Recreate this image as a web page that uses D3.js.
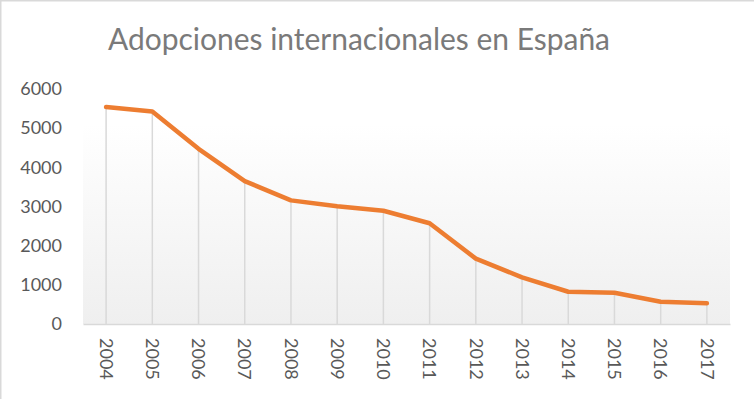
<!DOCTYPE html>
<html>
<head>
<meta charset="utf-8">
<script src="https://cdn.jsdelivr.net/npm/d3@7"></script>
<style>
  body { margin: 0; background: #fff; }
  svg { display: block; }
</style>
</head>
<body>
<svg id="chart" width="754" height="399"></svg>
<script>
const years = ['2004', '2005', '2006', '2007', '2008', '2009', '2010',
               '2011', '2012', '2013', '2014', '2015', '2016', '2017'];
const adoptions = [5541, 5423, 4472, 3648, 3156, 3006, 2891,
                   2573, 1669, 1191, 824, 799, 567, 531];
const yTicks = [0, 1000, 2000, 3000, 4000, 5000, 6000];

const TEXT_COLOR = '#595959';
const TITLE_COLOR = '#7a7a7a';
const LINE_COLOR = '#ed7d31';
const GRID_COLOR = '#d9d9d9';
const FONT = 'Lato, "Open Sans", sans-serif';

const margins = {left: 83, top: 89, right: 24, bottom: 75};
const width = 754 - margins.left - margins.right;
const height = 399 - margins.top - margins.bottom;

const svg = d3.select('#chart');

// chart border, only top and left edges show in the crop
svg.append('path')
    .attr('d', 'M0.75,399 V0.75 H754')
    .attr('fill', 'none')
    .attr('stroke', '#d9d9d9')
    .attr('stroke-width', 1.5);

const defs = svg.append('defs');
const grad = defs.append('linearGradient')
    .attr('id', 'plotFill')
    .attr('x1', 0).attr('y1', 0).attr('x2', 0).attr('y2', 1);
grad.append('stop').attr('offset', '0%').attr('stop-color', '#ffffff');
grad.append('stop').attr('offset', '15%').attr('stop-color', '#ffffff');
grad.append('stop').attr('offset', '100%').attr('stop-color', '#efefef');

svg.append('text')      // title
    .attr('x', 359)
    .attr('y', 50)
    .attr('text-anchor', 'middle')
    .attr('fill', TITLE_COLOR)
    .style('font-family', FONT)
    .style('font-size', '30px')
    .attr('textLength', 502)
    .attr('lengthAdjust', 'spacingAndGlyphs')
    .text('Adopciones internacionales en España');

const g = svg.append('g')
    .attr('transform', `translate(${margins.left},${margins.top})`);

const xScale = d3.scaleBand()
    .domain(years)
    .range([0, width]);
const yScale = d3.scaleLinear()
    .domain([0, 6000])
    .range([height, 0]);

g.append('rect')
    .attr('width', width)
    .attr('height', height)
    .attr('fill', 'url(#plotFill)');

const xc = d => xScale(d) + xScale.bandwidth() / 2;

// drop lines from baseline to each point
g.append('g')
    .selectAll('line')
    .data(years)
    .join('line')
    .attr('x1', d => xc(d))
    .attr('x2', d => xc(d))
    .attr('y1', height)
    .attr('y2', (d, i) => yScale(adoptions[i]))
    .attr('stroke', GRID_COLOR)
    .attr('stroke-width', 1.5);

// x axis
const xAxis = g.append('g')
    .attr('class', 'x-axis')
    .attr('transform', `translate(0,${height})`)
    .call(d3.axisBottom(xScale).tickSize(0).tickPadding(0));
xAxis.select('.domain')
    .attr('stroke', GRID_COLOR)
    .attr('stroke-width', 1.5);
xAxis.selectAll('.tick text')
    .attr('transform', 'translate(0,14) rotate(90)')
    .attr('dy', '0.35em')
    .attr('x', 0)
    .attr('y', 0)
    .attr('text-anchor', 'start')
    .attr('fill', TEXT_COLOR)
    .style('font-family', FONT)
    .style('font-size', '18px');

// y axis
const yAxis = g.append('g')
    .attr('class', 'y-axis')
    .call(d3.axisLeft(yScale).tickValues(yTicks).tickSize(0).tickPadding(21)
        .tickFormat(d3.format('d')));
yAxis.select('.domain').remove();
yAxis.selectAll('.tick text')
    .attr('fill', TEXT_COLOR)
    .style('font-family', FONT)
    .style('font-size', '18px');

const line = d3.line()
    .x((d, i) => xc(years[i]))
    .y(d => yScale(d));

g.append('path')
    .datum(adoptions)
    .attr('d', line)
    .attr('fill', 'none')
    .attr('stroke', LINE_COLOR)
    .attr('stroke-width', 4.5)
    .attr('stroke-linejoin', 'round')
    .attr('stroke-linecap', 'round');
</script>
</body>
</html>
